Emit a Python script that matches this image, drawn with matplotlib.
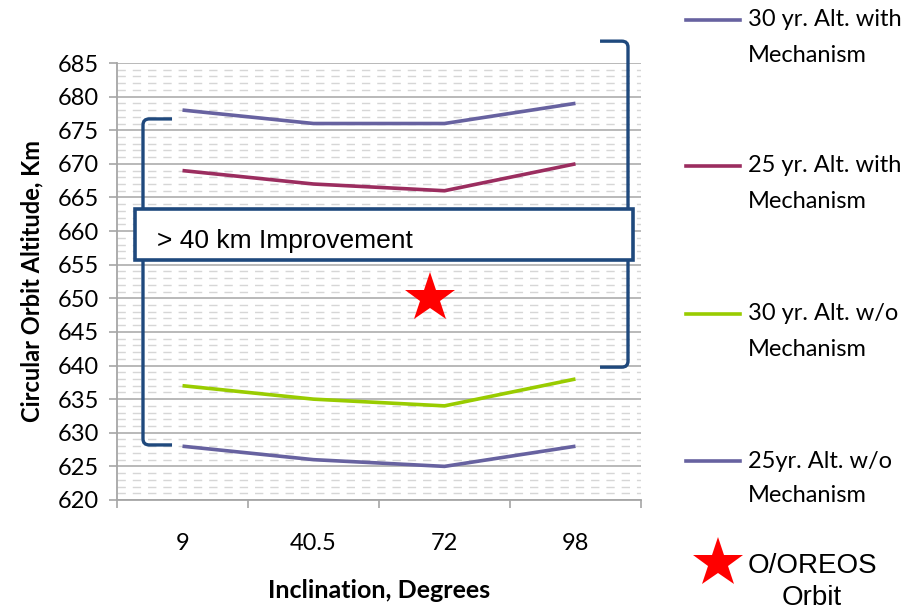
import matplotlib
matplotlib.use("Agg")
import matplotlib.pyplot as plt
from matplotlib.lines import Line2D
from matplotlib.patches import Rectangle, PathPatch
from matplotlib.path import Path
from matplotlib.ticker import MultipleLocator, FixedLocator

plt.rcParams['lines.scale_dashes'] = False

# ---- data ----
categories = ["9", "40.5", "72", "98"]
alt30_with = [678, 676, 676, 679]
alt25_with = [669, 667, 666, 670]
alt30_wo = [637, 635, 634, 638]
alt25_wo = [628, 626, 625, 628]
series_labels = [("30 yr. Alt. with", "Mechanism"),
                 ("25 yr. Alt. with", "Mechanism"),
                 ("30 yr. Alt. w/o", "Mechanism"),
                 ("25yr. Alt. w/o", "Mechanism")]
series_colors = ["#6762A0", "#9B2D5F", "#99CC00", "#6762A0"]
oreos_x = 1.89   # category-index position of the O/OREOS orbit marker
oreos_alt = 650
y_min, y_max = 620, 685

NAVY = "#1F497D"
TICK_FONT = "Lato"

fig = plt.figure(figsize=(9.05, 6.10), dpi=100)
ax = fig.add_axes([117/905, 1-500/610, 524/905, 437/610])

xs = list(range(len(categories)))
series = [alt30_with, alt25_with, alt30_wo, alt25_wo]
for vals, col in zip(series, series_colors):
    ax.plot(xs, vals, color=col, lw=2.6, solid_capstyle='butt', zorder=4)

ax.plot([oreos_x], [oreos_alt], marker='*', color='#FF0000', markersize=38,
        markeredgewidth=0, zorder=6)

ax.set_xlim(-0.5, len(categories) - 0.5)
ax.set_ylim(y_min, y_max)

# grid
ax.yaxis.set_major_locator(MultipleLocator(5))
ax.yaxis.set_minor_locator(MultipleLocator(1))
ax.grid(True, which='major', axis='y', color='#A6A6A6', lw=1.1, zorder=0)
ax.grid(True, which='minor', axis='y', color='#D6D6D6', lw=1.0,
        linestyle=(0, (6, 5)), zorder=0)

ax.set_xticks(xs)
ax.set_xticklabels(categories)
ax.xaxis.set_minor_locator(FixedLocator([i - 0.5 for i in range(len(categories) + 1)]))
ax.tick_params(axis='x', which='major', length=0, pad=24, labelsize=17)
ax.tick_params(axis='x', which='minor', length=6, width=1.2, color='#A6A6A6',
               direction='out')
ax.tick_params(axis='y', which='major', length=6, width=1.2, color='#A6A6A6',
               direction='out', pad=7, labelsize=17)
ax.tick_params(axis='y', which='minor', length=0)
for lab in ax.get_xticklabels() + ax.get_yticklabels():
    lab.set_fontfamily(TICK_FONT)

for s in ['top', 'right']:
    ax.spines[s].set_visible(False)
for s in ['left', 'bottom']:
    ax.spines[s].set_color('#A6A6A6')
    ax.spines[s].set_linewidth(1.3)

ax.set_xlabel("Inclination, Degrees", fontfamily=TICK_FONT, fontweight='bold',
              fontsize=18, labelpad=18)
ax.set_ylabel("Circular Orbit Altitude, Km", fontfamily=TICK_FONT,
              fontweight='bold', fontsize=17, labelpad=10)

# brackets (axes fraction coords) with slightly rounded corners
T = ax.transAxes


def bracket(x_arm, x_v, y_top, y_bot):
    dx = 0.012 if x_arm > x_v else -0.012
    dy = 0.014
    verts = [(x_arm, y_top), (x_v + dx, y_top), (x_v, y_top), (x_v, y_top - dy),
             (x_v, y_bot + dy), (x_v, y_bot), (x_v + dx, y_bot), (x_arm, y_bot)]
    codes = [Path.MOVETO, Path.LINETO, Path.CURVE3, Path.CURVE3,
             Path.LINETO, Path.CURVE3, Path.CURVE3, Path.LINETO]
    ax.add_patch(PathPatch(Path(verts, codes), transform=T, facecolor='none',
                           edgecolor=NAVY, lw=2.4, clip_on=False, zorder=3))


bracket(0.105, 0.0496, 0.872, 0.126)
bracket(0.9218, 0.9752, 1.050, 0.304)

# improvement box
ax.add_patch(Rectangle((0.0344, 0.549), 0.9503, 0.117, transform=T,
                       facecolor='white', edgecolor=NAVY, lw=2.6,
                       clip_on=False, zorder=5))
ax.text(0.0763, 0.592, "> 40 km Improvement", transform=T, ha='left',
        va='center', fontsize=19, fontfamily='Liberation Sans', zorder=7)

# legend (manual)
leg_y = [20, 166, 314, 461]
for (l1, l2), col, y in zip(series_labels, series_colors, leg_y):
    fy = 1 - y/610
    fig.add_artist(Line2D([686/905, 740/905], [fy, fy], color=col, lw=2.6,
                          transform=fig.transFigure))
    fig.text(748/905, fy, l1, ha='left', va='center', fontsize=17,
             fontfamily=TICK_FONT)
    fig.text(748/905, 1 - (y + 35)/610, l2, ha='left', va='center',
             fontsize=17, fontfamily=TICK_FONT)

fig.add_artist(Line2D([718/905], [1 - 563/610], marker='*', color='#FF0000',
                      markersize=38, markeredgewidth=0,
                      transform=fig.transFigure))
fig.text(812/905, 1 - 566/610, "O/OREOS", ha='center', va='center',
         fontsize=20, fontfamily='Liberation Sans')
fig.text(812/905, 1 - 598/610, "Orbit", ha='center', va='center',
         fontsize=20, fontfamily='Liberation Sans')

fig.savefig("out.png", dpi=100)
